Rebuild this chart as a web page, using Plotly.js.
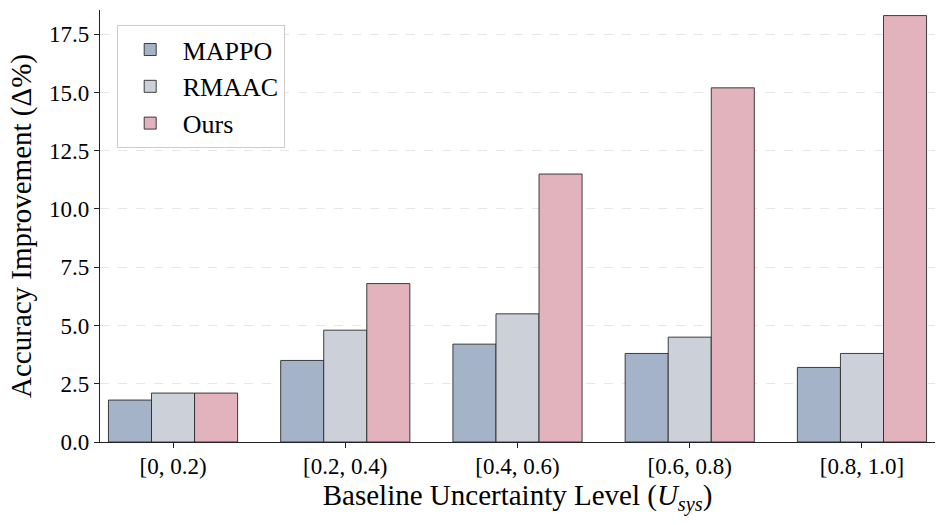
<!DOCTYPE html>
<html>
<head>
<meta charset="utf-8">
<script src="https://cdn.plot.ly/plotly-3.0.1.min.js"></script>
<style>html,body{margin:0;padding:0;background:#fff;}#chart{width:946px;height:525px;}</style>
</head>
<body>
<div id="chart"></div>
<script>
const categories = ["[0, 0.2)", "[0.2, 0.4)", "[0.4, 0.6)", "[0.6, 0.8)", "[0.8, 1.0]"];
const mappo = [1.8, 3.5, 4.2, 3.8, 3.2];
const rmaac = [2.1, 4.8, 5.5, 4.5, 3.8];
const ours = [2.1, 6.8, 11.5, 15.2, 18.3];
const seriesNames = ["MAPPO", "RMAAC", "Ours"];
const seriesColors = ["#a5b3c9", "#ccd1d9", "#e2b2bd"];
const yTicks = [0, 2.5, 5, 7.5, 10, 12.5, 15, 17.5];
const yTickText = ["0.0", "2.5", "5.0", "7.5", "10.0", "12.5", "15.0", "17.5"];

const FONT = "Liberation Serif, Times New Roman, serif";
const data = [mappo, rmaac, ours].map((vals, i) => ({
  type: "bar",
  name: seriesNames[i],
  x: categories,
  y: vals,
  marker: {color: seriesColors[i], line: {color: "#2a2a2a", width: 0.9}},
  hoverinfo: "skip"
}));

const layout = {
  width: 946, height: 525,
  margin: {l: 100, r: 11, t: 10, b: 83},
  paper_bgcolor: "#fff", plot_bgcolor: "#fff",
  font: {family: FONT, color: "#000"},
  barmode: "group",
  bargap: 0.25,
  bargroupgap: 0,
  showlegend: true,
  legend: {
    x: 0.02, y: 0.965, xanchor: "left", yanchor: "top",
    bgcolor: "rgba(255,255,255,0.9)", bordercolor: "#cccccc", borderwidth: 1,
    font: {family: FONT, size: 26, color: "#000"},
    tracegroupgap: 0, itemwidth: 55
  },
  xaxis: {
    type: "category",
    range: [-0.424, 4.424],
    showline: true, linecolor: "#222", linewidth: 1.2,
    ticks: "outside", ticklen: 5, tickcolor: "#222", tickwidth: 1,
    ticklabelstandoff: -2,
    showgrid: false, zeroline: false,
    tickfont: {family: FONT, size: 23, color: "#000"},
    title: {text: "Baseline Uncertainty Level (<i>U</i><sub><i>sys</i></sub>)", font: {family: FONT, size: 29, color: "#000"}, standoff: 0}
  },
  yaxis: {
    range: [0, 18.54],
    tickvals: yTicks, ticktext: yTickText,
    showline: true, linecolor: "#222", linewidth: 1.2,
    ticks: "outside", ticklen: 5, tickcolor: "#222", tickwidth: 1,
    showgrid: true, gridcolor: "#e6e6e6", griddash: "dash", gridwidth: 1,
    zeroline: false,
    tickfont: {family: FONT, size: 23, color: "#000"},
    title: {text: "Accuracy Improvement (Δ%)", font: {family: FONT, size: 29, color: "#000"}, standoff: 8}
  }
};

Plotly.newPlot("chart", data, layout, {displayModeBar: false, staticPlot: true});
</script>
</body>
</html>
